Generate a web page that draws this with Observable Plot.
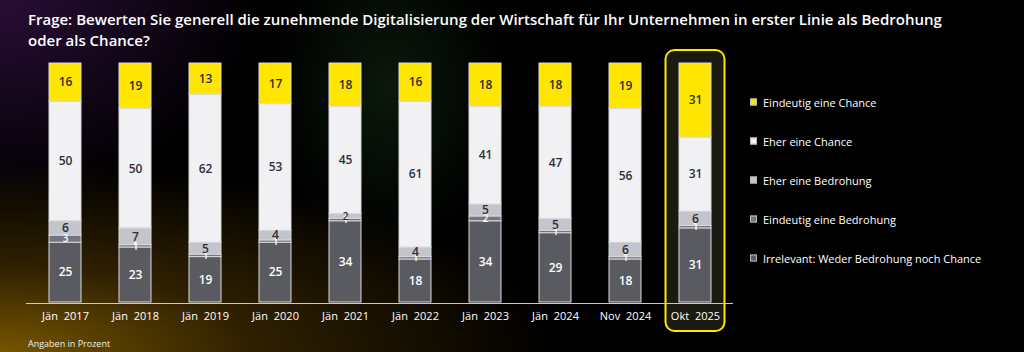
<!DOCTYPE html>
<html>
<head>
<meta charset="utf-8">
<script src="https://cdn.jsdelivr.net/npm/d3@7"></script>
<script src="https://cdn.jsdelivr.net/npm/@observablehq/plot@0.6"></script>
<style>
  html, body { margin: 0; padding: 0; }
  body {
    width: 1024px; height: 352px; overflow: hidden;
    background:
      radial-gradient(ellipse 560px 190px at 0% 100%, rgba(125,90,0,0.95), rgba(85,58,0,0.55) 45%, rgba(0,0,0,0) 100%),
      radial-gradient(ellipse 260px 200px at 0% 0%, rgba(45,15,60,0.9), rgba(0,0,0,0) 100%),
      radial-gradient(ellipse 120px 160px at 38% 25%, rgba(20,45,20,0.55), rgba(0,0,0,0) 100%),
      #000;
    font-family: "Open Sans", "Noto Sans", sans-serif;
    color: #fff;
  }
  #wrap { position: relative; width: 1024px; height: 352px; }
  #title {
    position: absolute; left: 28px; top: 9px;
    font-size: 15px; font-weight: 600; line-height: 21px; white-space: nowrap;
  }
  #caption { position: absolute; left: 28px; top: 337px; font-size: 9px; color: #eee; }
  #legend { position: absolute; left: 750px; top: 0; font-size: 11px; }
  .li { position: absolute; left: 0; white-space: nowrap; display: flex; align-items: center; transform: translateY(-50%); }
  .sw { width: 7px; height: 7px; margin-right: 6px; box-sizing: border-box; border: 1px solid #bbb; }
  #chart { position: absolute; left: 0; top: 0; }
  #chart svg text { word-spacing: 3px; }
</style>
</head>
<body>
<div id="wrap">
  <div id="chart"></div>
  <div id="title">Frage: Bewerten Sie generell die zunehmende Digitalisierung der Wirtschaft für Ihr Unternehmen in erster Linie als Bedrohung<br>oder als Chance?</div>
  <div id="legend"></div>
  <div id="caption">Angaben in Prozent</div>
</div>
<script>
const periods = ["Jän 2017","Jän 2018","Jän 2019","Jän 2020","Jän 2021","Jän 2022","Jän 2023","Jän 2024","Nov 2024","Okt 2025"];
const seriesNames = ["Irrelevant: Weder Bedrohung noch Chance","Eindeutig eine Bedrohung","Eher eine Bedrohung","Eher eine Chance","Eindeutig eine Chance"];
const irrelevant        = [25,23,19,25,34,18,34,29,18,31];
const eindeutigBedrohung = [3,1,1,1,1,1,2,1,1,1];
const eherBedrohung      = [6,7,5,4,2,4,5,5,6,6];
const eherChance         = [50,50,62,53,45,61,41,47,56,31];
const eindeutigChance    = [16,19,13,17,18,16,18,18,19,31];
const highlighted = ["Okt 2025"];
const colors = ["#5a5a61","#75757f","#c4c4cd","#f1f1f3","#ffe600"];
const textColors = ["#fff","#fff","#2e2e38","#2e2e38","#2e2e38"];
const legendOrder = ["Eindeutig eine Chance","Eher eine Chance","Eher eine Bedrohung","Eindeutig eine Bedrohung","Irrelevant: Weder Bedrohung noch Chance"];

const seriesValues = [irrelevant, eindeutigBedrohung, eherBedrohung, eherChance, eindeutigChance];
const data = [];
seriesNames.forEach((s, si) => periods.forEach((p, i) => data.push({period: p, series: s, value: seriesValues[si][i]})));
const totals = periods.map((p, i) => ({period: p, total: d3.sum(seriesValues, v => v[i])}));

const textColorScale = d3.scaleOrdinal(seriesNames, textColors);

const chart = Plot.plot({
  width: 1024,
  height: 352,
  marginLeft: 26,
  marginRight: 291,
  marginTop: 63,
  marginBottom: 50,
  style: {background: "transparent", fontFamily: "Open Sans, Noto Sans, sans-serif", overflow: "visible"},
  x: {domain: periods, paddingInner: 0.547, paddingOuter: 0.269, label: null},
  y: {domain: [0, 100], axis: null},
  color: {domain: seriesNames, range: colors},
  marks: [
    Plot.barY(totals.filter(d => highlighted.includes(d.period)), {
      x: "period", y1: 0, y2: "total",
      insetLeft: -13.5, insetRight: -13.5, insetTop: -13, insetBottom: -29,
      rx: 9, fill: "#1b1a10", stroke: "#ffe600", strokeWidth: 2
    }),
    Plot.barY(data, Plot.stackY({
      x: "period", y: "value", fill: "series", order: seriesNames,
      stroke: "#d8d8dc", strokeWidth: 1
    })),
    Plot.text(data, Plot.stackY({
      x: "period", y: "value", z: "series", order: seriesNames,
      text: d => String(d.value),
      fill: d => textColorScale(d.series),
      fontSize: d => d.value <= 3 ? 10 : 12,
      fontWeight: 600
    })),
    Plot.ruleY([0], {stroke: "#c9c9c9", strokeWidth: 1, dy: 1}),
    Plot.axisX({tickSize: 0, tickPadding: 10, fill: "#fff", fontSize: 11, label: null})
  ]
});
document.getElementById("chart").appendChild(chart);

const legendYs = [102, 141, 180, 219, 258];
const legend = document.getElementById("legend");
legendOrder.forEach((name, i) => {
  const el = document.createElement("div");
  el.className = "li";
  el.style.top = legendYs[i] + "px";
  const sw = document.createElement("span");
  sw.className = "sw";
  sw.style.background = colors[seriesNames.indexOf(name)];
  const t = document.createElement("span");
  t.textContent = name;
  el.appendChild(sw); el.appendChild(t);
  legend.appendChild(el);
});
</script>
</body>
</html>
